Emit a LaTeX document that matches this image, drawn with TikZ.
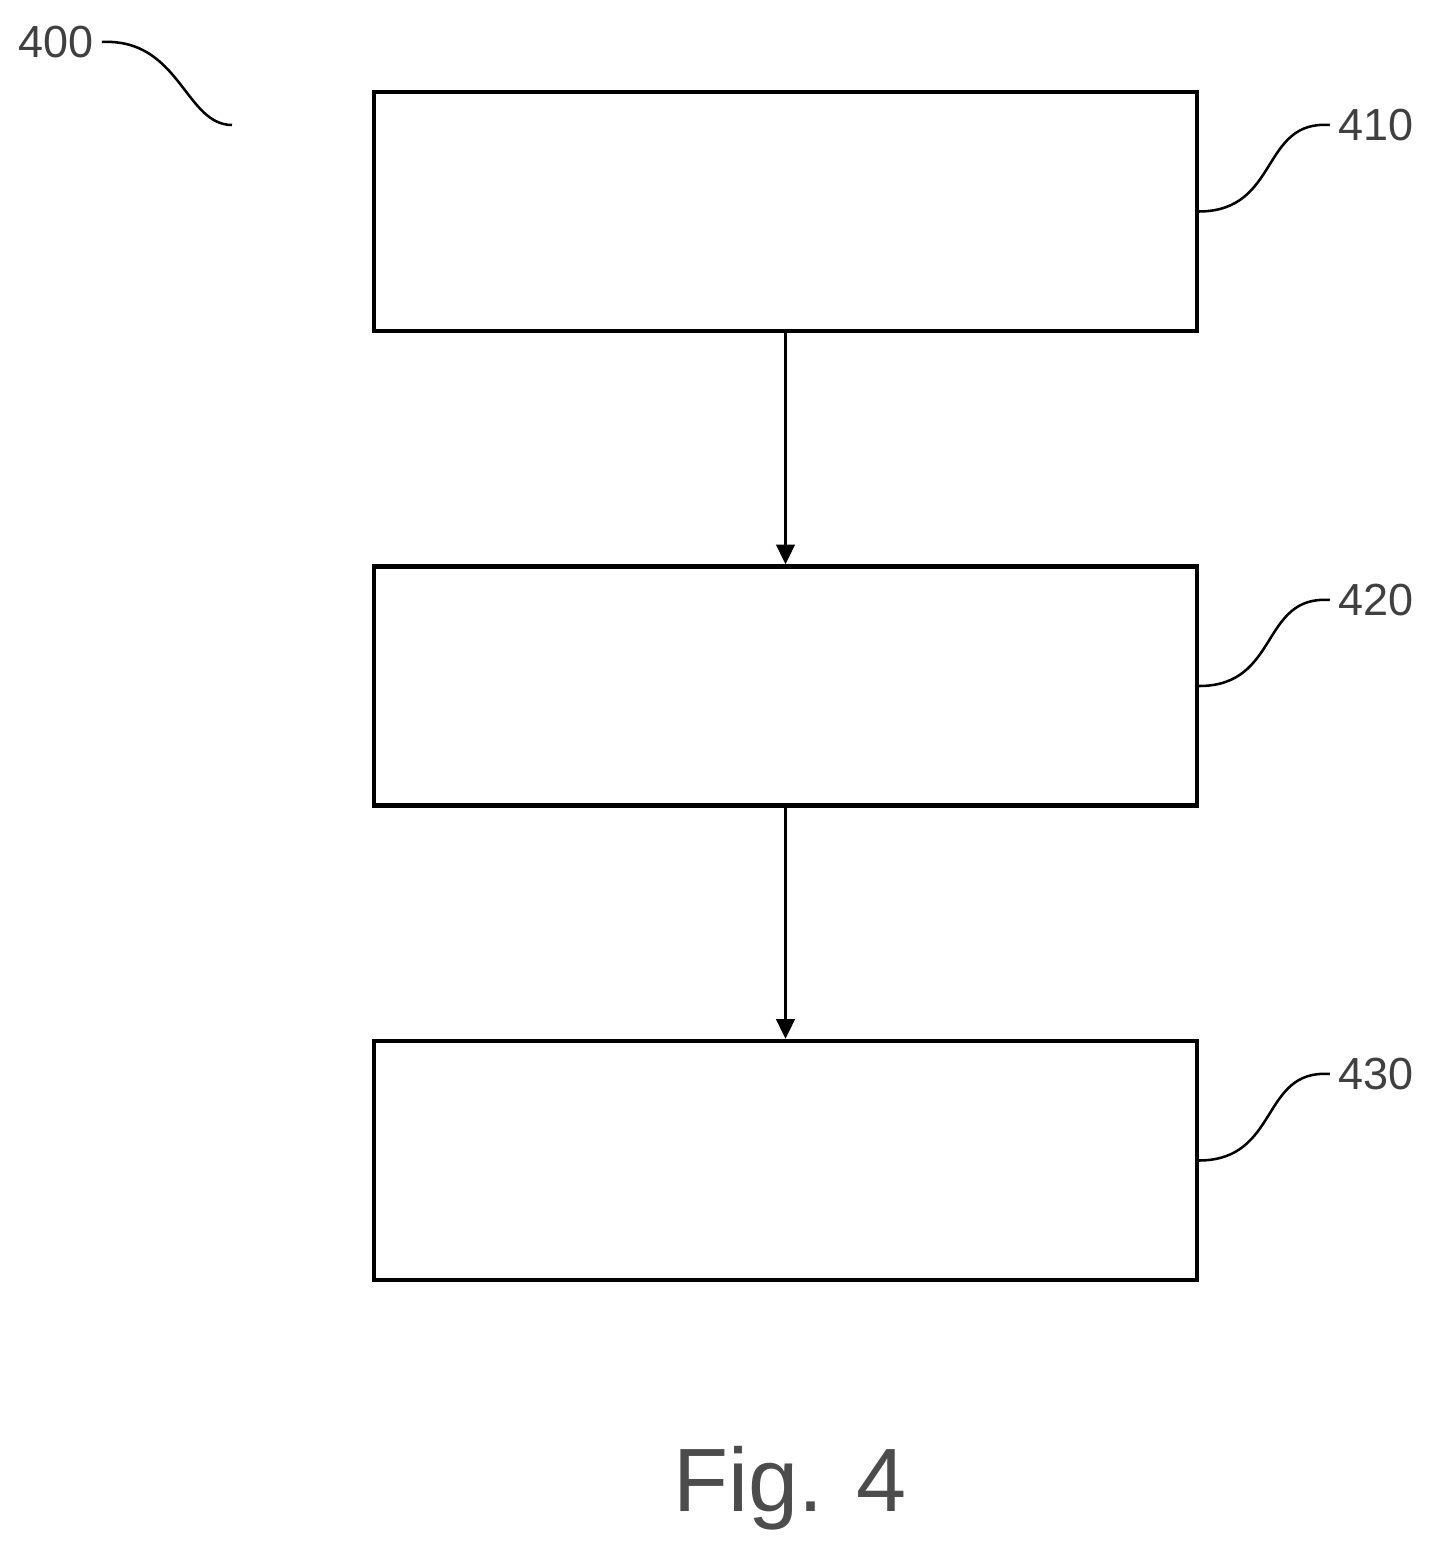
\documentclass[tikz,border=0pt]{standalone}
\usepackage{fontspec}
\setmainfont{Liberation Sans}
\usetikzlibrary{arrows.meta}
\begin{document}
\begin{tikzpicture}[x=0.25mm,y=-0.25mm,
  box/.style={draw,line width=3pt,minimum width=205.75mm,minimum height=59.75mm,inner sep=0pt},
  lead/.style={line width=1.8pt},
  arr/.style={line width=2.2pt,-{Triangle[length=14pt,width=13pt]}},
  lbl/.style={font=\fontsize{32}{34}\selectfont,text=black!75,inner sep=0pt}]
\useasboundingbox (0,0) rectangle (1432,1551);
\node[box] (b1) at (785.5,211.5) {};
\node[box] (b2) at (785.5,686) {};
\node[box] (b3) at (785.5,1160.5) {};
\draw[arr] (b1.south) -- (b2.north);
\draw[arr] (b2.south) -- (b3.north);
\node[lbl] (l400) at (56,42) {400};
\node[lbl] (l410) at (1376,125) {410};
\node[lbl] (l420) at (1376,600) {420};
\node[lbl] (l430) at (1376,1074) {430};
\coordinate (e400) at (232,125);
\draw[lead] (l400.east) ++(8,0) .. controls (180,38) and (185,125) .. (e400);
\draw[lead] (b1.east) .. controls (1280,211) and (1260,120) .. ([xshift=-6]l410.west);
\draw[lead] (b2.east) .. controls (1280,686) and (1260,595) .. ([xshift=-6]l420.west);
\draw[lead] (b3.east) .. controls (1280,1160) and (1260,1069) .. ([xshift=-6]l430.west);
\node[font=\fontsize{64}{66}\selectfont,text=black!70,inner sep=0pt] (fig) at (790,1488) {Fig. 4};
\end{tikzpicture}
\end{document}
